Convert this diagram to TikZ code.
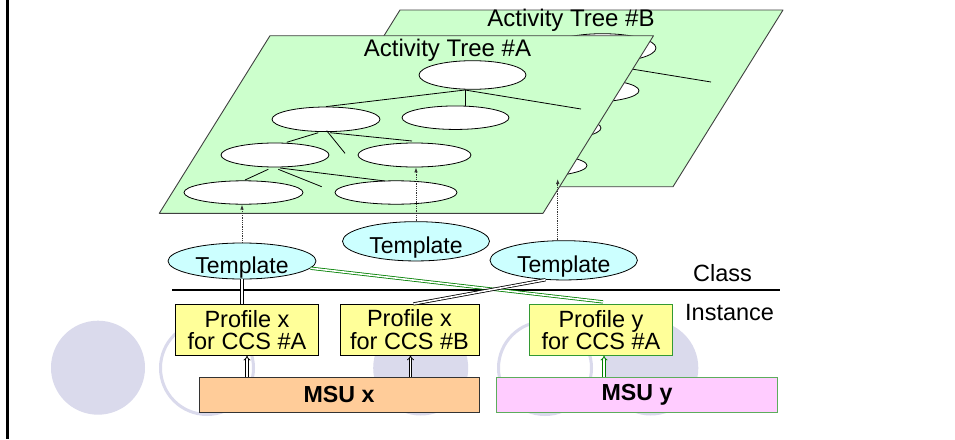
\documentclass[tikz,border=0pt]{standalone}
\usepackage{fontspec}
\setmainfont{Liberation Sans}
\usetikzlibrary{arrows.meta,shapes.geometric}

\definecolor{planegreen}{HTML}{CCFFCC}
\definecolor{tplcyan}{HTML}{CCFFFF}
\definecolor{profyellow}{HTML}{FFFF99}
\definecolor{msuorange}{HTML}{FFCC99}
\definecolor{msupink}{HTML}{FFCCFF}
\definecolor{linkgreen}{HTML}{008000}
\definecolor{boxgreen}{HTML}{339933}
\definecolor{decor}{HTML}{DADAEC}

% one activity tree, shifted by (#2,#3), node names prefixed with #1
\newcommand{\activitytree}[3]{%
  \begin{scope}[shift={(#2,#3)}]
    \node[leaf, minimum width=107, minimum height=28.6] (#1root) at (472.5,75) {};
    \node[leaf, minimum width=108, minimum height=24.6] (#1l2L) at (326,119.3) {};
    \node[leaf, minimum width=107, minimum height=23.5] (#1l2R) at (455.5,117.7) {};
    \node[leaf, minimum width=108, minimum height=24] (#1l3L) at (275,155) {};
    \node[leaf, minimum width=113, minimum height=24] (#1l3R) at (414.5,155) {};
    \node[leaf, minimum width=119, minimum height=23.4] (#1l4L) at (243.5,192.5) {};
    \node[leaf, minimum width=122, minimum height=23.4] (#1l4R) at (396,192.5) {};
    \coordinate (#1hub) at (465,90);
    \draw[twig] (#1l2L.north) -- (#1hub);
    \draw[twig] (#1hub) -- (#1hub |- #1l2R.north);
    \draw[twig] (#1hub) -- (581,109);
    \draw[twig] (286.7,142.3) -- (318.3,132.7);
    \draw[twig] (326.7,130.7) -- (345,153.3);
    \draw[twig] (330,132.7) -- (412,141);
    \draw[twig] (245,180) -- (268.3,169.3);
    \draw[twig] (278.3,169.3) -- (321.7,186.7);
    \draw[twig] (280,168) -- (385,181);
  \end{scope}}

% template caption, set low inside its ellipse
\newcommand{\tpltext}{\raisebox{-12pt}[0pt][0pt]{Template}}

\begin{document}
\begin{tikzpicture}[x=1pt,y=-1pt,
  plane/.style={fill=planegreen, draw=black!75, line width=0.9pt, line join=round},
  leaf/.style={ellipse, draw=black, fill=white, inner sep=0pt, line width=0.8pt},
  twig/.style={draw=black, line width=0.8pt},
  title/.style={anchor=base, font=\fontsize{24}{28}\selectfont, inner sep=0pt},
  tpl/.style={ellipse, draw=black, fill=tplcyan, inner sep=0pt, line width=0.8pt,
    font=\fontsize{23}{26}\selectfont},
  prof/.style={rectangle, draw=black, fill=profyellow, inner sep=0pt, line width=0.8pt,
    align=center, font=\fontsize{23.5}{22.3}\selectfont},
  msu/.style={rectangle, inner sep=0pt, line width=0.8pt,
    font=\fontsize{23.2}{26}\selectfont\bfseries},
  hint/.style={draw=black!80, line width=0.8pt, densely dotted,
    -{Latex[length=5pt,width=3.5pt]}},
  feed/.style={double, double distance=1.6pt, line width=0.8pt,
    -{Implies[length=3pt]}},
  bond/.style={double, double distance=1.6pt, line width=0.8pt},
  ring/.style={draw=decor, line width=3pt},
  lbl/.style={anchor=base west, inner sep=0pt, font=\fontsize{23.5}{26}\selectfont}
]
\useasboundingbox (0,0) rectangle (955,439);
\fill[white] (0,0) rectangle (955,439);

% decorative circles in the background
\fill[decor] (98,367.7) circle[radius=47];
\draw[ring] (207,368) circle[radius=46.5];
\fill[decor] (420.7,368) circle[radius=47.5];
\draw[ring] (545,368) circle[radius=46.5];
\fill[decor] (650.8,368) circle[radius=47.5];

% left rule
\draw[line width=3pt] (7.7,0) -- (7.7,439);

% activity tree B (behind)
\draw[plane] (400,10) -- (783,10) -- (673,186.7) -- (290,186.7) -- cycle;
\activitytree{b}{130}{-27}
\node[title] (titleB) at (571,26.7) {Activity Tree \#B};

% activity tree A (front)
\draw[plane] (270,35.7) -- (653.5,35.7) -- (543,213.3) -- (159.3,213.3) -- cycle;
\activitytree{a}{0}{0}
\node[title] (titleA) at (447.5,56) {Activity Tree \#A};

% templates
\node[tpl, minimum width=148, minimum height=36] (t1) at (242,261) {\tpltext};
\node[tpl, minimum width=147, minimum height=39.3] (t2) at (416,241.3) {\tpltext};
\node[tpl, minimum width=147.4, minimum height=39.3] (t3) at (563.7,260.3) {\tpltext};

% template -> tree node links
\coordinate (tipc) at (557.7,179);
\draw[hint] (t1.north) -- (t1.north |- al4L.south);
\draw[hint] (t2.north) -- (t2.north |- al3R.south);
\draw[hint] (t3.north -| tipc) -- (tipc);

% class / instance boundary
\coordinate (clsL) at (172,289.5);
\coordinate (clsR) at (780,289.5);
\draw[line width=2pt] (clsL) -- (clsR);
\node[lbl] (cls) at (693,281.7) {Class};
\node[lbl] (inst) at (685,320) {Instance};

% profiles
\node[prof, minimum width=142.6, minimum height=51] (p1) at (247,329.8) {Profile x\\for CCS \#A};
\node[prof, minimum width=139, minimum height=50.7] (p2) at (409.5,329.7) {Profile x\\for CCS \#B};
\node[prof, draw=boxgreen, minimum width=143.4, minimum height=51] (p3) at (601,329.8) {Profile y\\for CCS \#A};

% profile -> template bindings
\draw[bond, draw=linkgreen] ([xshift=2pt,yshift=2pt]p3.north) -- (t1.-6);
\draw[bond] (p1.north -| t1.south) -- (t1.south);
\draw[bond] ([xshift=4pt]p2.north) -- (t3.227);

% MSUs
\node[msu, draw=black!80, fill=msuorange, minimum width=280, minimum height=35] (msux) at (339,394.8) {MSU x};
\node[msu, draw=boxgreen!80, fill=msupink, minimum width=280.6, minimum height=35] (msuy) at (637,394.8) {MSU y};

\draw[feed] (msux.north -| p1.south) -- (p1.south);
\draw[feed] ([xshift=1pt]msux.north -| p2.south) -- ([xshift=1pt]p2.south);
\draw[feed, draw=linkgreen] ([xshift=3pt]msuy.north -| p3.south) -- ([xshift=3pt]p3.south);
\end{tikzpicture}
\end{document}
